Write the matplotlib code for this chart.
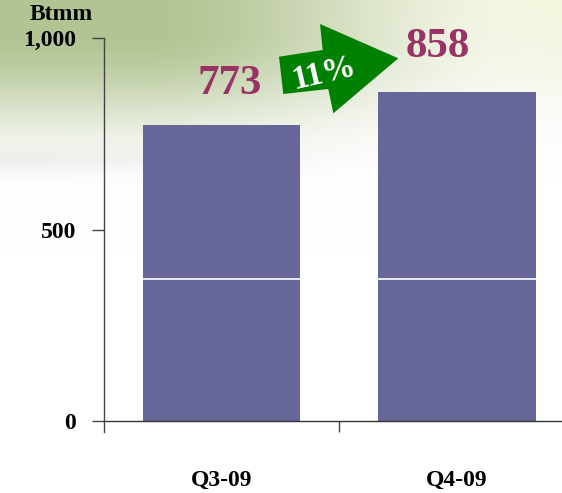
import numpy as np
import matplotlib
matplotlib.use('Agg')
import matplotlib.pyplot as plt
from matplotlib.patches import Polygon

# Data
quarters = ['Q3-09', 'Q4-09']
base = [370, 370]
upper = [403, 488]
totals = [773, 858]
growth = '11%'

W, H = 562, 493
plt.rcParams['font.family'] = ['Liberation Serif', 'DejaVu Serif']
plt.rcParams['font.weight'] = 'bold'

fig = plt.figure(figsize=(W / 100, H / 100), dpi=100)


def smooth(t):
    t = np.clip(t, 0, 1)
    return t * t * (3 - 2 * t)


# Background: faded green photo at the top
yy, xx = np.mgrid[0:H, 0:W].astype(float)
vert = smooth((180 - yy) / 150.0)
horiz = 0.15 + 0.85 * smooth((520 - xx) / 380.0)
w = vert * horiz
green = np.array([178, 196, 146]) / 255.0
img = np.ones((H, W, 3)) * (1 - w[..., None]) + green * w[..., None]
# slight grey band along the bottom of the photo on the left
band = np.exp(-((yy - 160) / 16.0) ** 2) * np.clip(1 - xx / 420.0, 0, 1) * 0.05
img = img - band[..., None]
# yellow-ish glow top right
glow = np.clip(1 - yy / 120.0, 0, 1) * np.clip((xx - 300) / 262.0, 0, 1) * 0.07
img[..., 2] -= glow
img = np.clip(img, 0, 1)
bg = fig.add_axes([0, 0, 1, 1], zorder=0)
bg.imshow(img, aspect='auto', extent=[0, 1, 0, 1], interpolation='bilinear')
bg.axis('off')

ax = fig.add_axes([104 / W, (H - 432) / H, (W - 104) / W, (432 - 38) / H], zorder=1)
ax.patch.set_alpha(0)

x = np.arange(len(quarters))
bw = 0.667
bar_color = '#666699'
ax.bar(x, base, bw, color=bar_color, linewidth=0)
ax.bar(x, upper, bw, bottom=base, color=bar_color, linewidth=0)
ax.hlines(base, x - bw / 2, x + bw / 2, color='white', lw=1.2)

ax.set_ylim(-11 / 383 * 1000, 1000)
ax.set_xlim((104 - 221.5) / 235.5, (562 - 221.5) / 235.5)
ax.axhline(0, color='#333333', lw=1)

for s in ['top', 'right', 'bottom']:
    ax.spines[s].set_visible(False)
ax.spines['left'].set_color('#444444')
ax.spines['left'].set_linewidth(1)

ax.set_yticks([0, 500, 1000])
ax.set_yticklabels(['0', '500', '1,000'])
ax.tick_params(axis='y', length=8.6, width=1, color='#444444', pad=11.5, labelsize=17)
ax.set_xticks(x)
ax.set_xticklabels(quarters)
ax.tick_params(axis='x', which='major', length=0, pad=27, labelsize=17)
ax.set_xticks([0.5], minor=True)
ax.tick_params(axis='x', which='minor', direction='in', length=7.9, width=1, color='#444444')

fig.text(61 / W, 1 - 15 / H, 'Btmm', ha='center', va='center', fontsize=17, fontweight='bold')

# value labels
label_dx = [0.036, -0.08]
label_dy = [80, 93]
for i, t in enumerate(totals):
    ax.text(x[i] + label_dx[i], t + label_dy[i], str(t), ha='center', va='baseline',
            fontsize=31, fontweight='bold', color='#993366')

# growth arrow
pts = [(279, 56.7), (322.7, 50), (320, 24), (398.3, 58.3), (333.3, 113.3), (328.3, 89), (283.3, 94)]
arrow = Polygon([(px / W, 1 - py / H) for px, py in pts], closed=True,
                transform=fig.transFigure, facecolor='#008000', edgecolor='none', zorder=3)
fig.patches.append(arrow)
fig.text(324 / W, 1 - 73 / H, growth, ha='center', va='center', rotation=13,
         fontsize=24, fontweight='bold', color='white', zorder=4)

plt.savefig('out.png', dpi=100)
